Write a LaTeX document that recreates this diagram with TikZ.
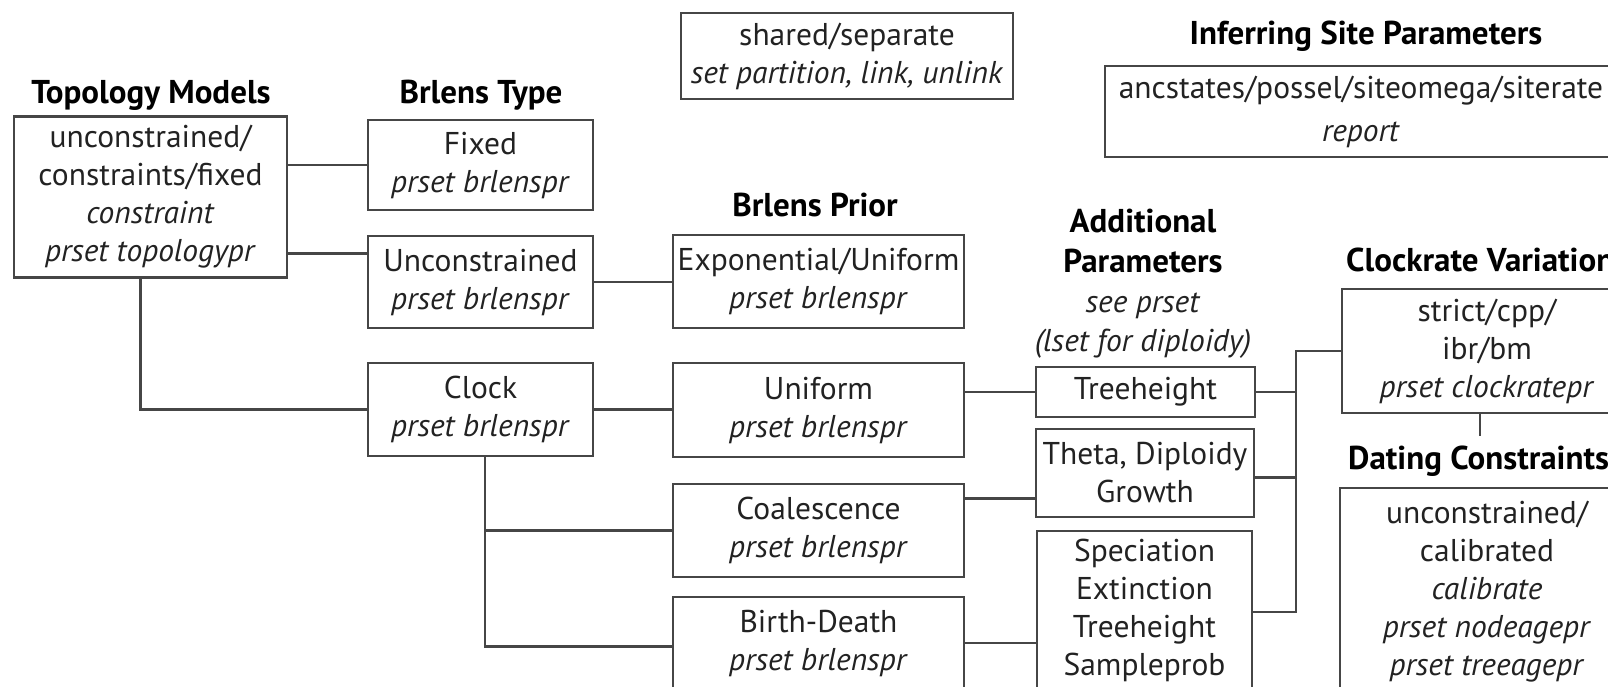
\documentclass[tikz,border=0pt]{standalone}
\usepackage{fontspec}
\setmainfont{PT Sans}
\usetikzlibrary{calc}
\definecolor{ln}{RGB}{70,70,70}
\definecolor{tx}{RGB}{34,34,34}
\newcommand{\ttlsize}{\fontsize{33}{40}\selectfont}
\begin{document}
\begin{tikzpicture}[x=1pt,y=-1pt,
  font=\fontsize{31.5}{38}\selectfont,
  box/.style={draw=ln, line width=2.4pt, rectangle, align=center, text=tx, inner sep=0pt},
  ttl/.style={font=\bfseries\ttlsize, text=black, align=center, inner sep=0pt},
  conn/.style={draw=ln, line width=2.4pt}]
\useasboundingbox (0,0) rectangle (1608,686);
\begin{scope}
\clip (0,0) rectangle (1608,686);
% titles
\node[ttl] (tTopo) at (151,95) {Topology Models};
\node[ttl] (tType) at (481,95) {Brlens Type};
\node[ttl] (tPrior) at (815,205) {Brlens Prior};
\node[ttl] (tInfer) at (1366,36) {Inferring Site Parameters};
\node[align=center, inner sep=0pt, text=tx, font=\fontsize{31.5}{39.7}\selectfont] (tAdd) at (1143,284)
  {{\ttlsize\bfseries\color{black}Additional}\\{\ttlsize\bfseries\color{black}Parameters}\\\textit{see prset}\\\textit{(lset for diploidy)}};
\node[ttl, anchor=west] (tClock) at (1346,260) {Clockrate Variation};
\node[ttl, anchor=west] (tDate) at (1348,461) {Dating Constraints};
% boxes
\node[box, minimum width=273pt, minimum height=161pt] (topo) at (150.5,197)
  {unconstrained/\\constraints/fixed\\\textit{constraint}\\\textit{prset topologypr}};
\node[box, minimum width=225pt, minimum height=90pt] (fixed) at (480.5,165)
  {Fixed\\\textit{prset brlenspr}};
\node[box, minimum width=225pt, minimum height=92pt] (uncon) at (480.5,282)
  {Unconstrained\\\textit{prset brlenspr}};
\node[box, minimum width=225pt, minimum height=93pt] (clock) at (480.5,409.5)
  {Clock\\\textit{prset brlenspr}};
\node[box, minimum width=291pt, minimum height=93pt] (expo) at (818.5,281.5)
  {Exponential/Uniform\\\textit{prset brlenspr}};
\node[box, minimum width=291pt, minimum height=94pt] (unif) at (818.5,410)
  {Uniform\\\textit{prset brlenspr}};
\node[box, minimum width=291pt, minimum height=93pt] (coal) at (818.5,530.5)
  {Coalescence\\\textit{prset brlenspr}};
\node[box, minimum width=291pt, minimum height=92pt] (bd) at (818.5,643)
  {Birth-Death\\\textit{prset brlenspr}};
\node[box, minimum width=332pt, minimum height=86pt] (shared) at (847,56)
  {shared/separate\\\textit{set partition, link, unlink}};
\node[box, minimum width=512pt, minimum height=91pt, font=\fontsize{31.5}{43}\selectfont] (infer) at (1361,111.5)
  {ancstates/possel/siteomega/siterate\\\textit{report}};
\node[box, minimum width=219pt, minimum height=50pt] (tree) at (1145.5,392)
  {Treeheight};
\node[box, minimum width=218pt, minimum height=88pt] (theta) at (1145,473)
  {Theta, Diploidy\\Growth};
\node[box, minimum width=215pt, minimum height=158pt] (spec) at (1144.5,610)
  {Speciation\\Extinction\\Treeheight\\Sampleprob};
\node[box, minimum width=290pt, minimum height=124pt] (crate) at (1487,351)
  {strict/cpp/\\ibr/bm\\\textit{prset clockratepr}};
\node[box, minimum width=294pt, minimum height=208pt] (dating) at (1487,592)
  {unconstrained/\\calibrated\\\textit{calibrate}\\\textit{prset nodeagepr}\\\textit{prset treeagepr}};
% connectors
\draw[conn] (fixed.west) -- (fixed.west -| topo.east);
\draw[conn] ([yshift=28.7pt]uncon.west) -- ([yshift=28.7pt]uncon.west -| topo.east);
\draw[conn] ([xshift=-10pt]topo.south) |- (clock.west);
\draw[conn] (uncon.east) -- (uncon.east -| expo.west);
\draw[conn] (clock.east) -- (clock.east -| unif.west);
\coordinate (cb) at ([xshift=4.5pt]clock.south);
\draw[conn] (cb) |- ([yshift=-3.5pt]bd.west);
\draw[conn] (coal.west) -- (coal.west -| cb);
\draw[conn] (tree.west) -- (tree.west -| unif.east);
\draw[conn] ([yshift=32pt]coal.east) -- ([yshift=32pt]coal.east -| theta.west);
\draw[conn] (bd.east) -- (bd.east -| spec.west);
\coordinate (bus) at ($(crate.west)+(-45,0)$);
\draw[conn] (crate.west) -- (bus) |- ([yshift=-2pt]spec.east);
\draw[conn] (tree.east) -- (tree.east -| bus);
\draw[conn] ([yshift=-4.5pt]theta.east) -- ([yshift=-4.5pt]theta.east -| bus);
\coordinate (stubend) at ([xshift=-7pt,yshift=-22pt]crate.south);
\draw[conn] ([xshift=-7pt]crate.south) -- (stubend);
\end{scope}
\end{tikzpicture}
\end{document}
